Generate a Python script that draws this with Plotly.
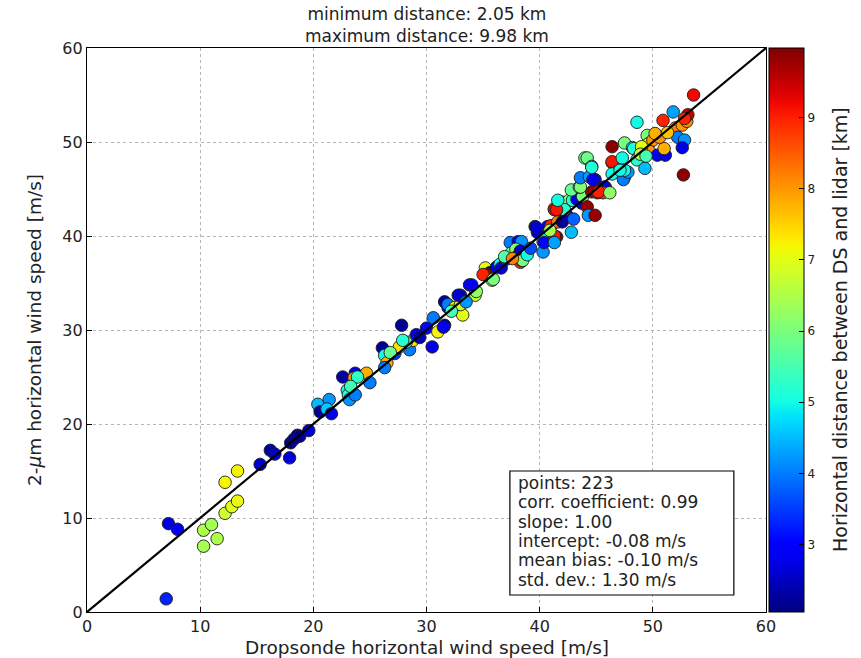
import plotly.graph_objects as go
import numpy as np

# ---- data ----
pts = [
 (7.0,1.4,3.3),(7.2,9.4,2.7),(8.0,8.8,2.9),(10.3,7.0,6.4),(10.3,8.7,6.5),(11.0,9.3,6.4),(11.5,7.8,6.5),
 (12.2,10.5,6.8),(12.8,11.2,7.0),(13.3,11.8,7.1),(12.2,13.8,7.2),(13.3,15.0,7.2),
 (15.3,15.7,2.6),(16.2,17.2,2.3),(16.6,16.8,2.6),(17.9,16.4,2.7),(18.0,18.0,2.2),(18.3,18.4,2.3),
 (18.6,18.8,2.1),(18.8,18.7,2.2),(19.6,19.3,2.7),
 (20.4,22.1,4.5),(20.6,21.3,2.2),(21.4,22.6,4.2),(21.2,21.6,4.6),(21.6,21.1,2.8),(22.6,25.0,2.3),
 (23.7,25.4,2.7),(23.6,24.9,8.0),(24.7,25.4,7.8),(25.0,24.4,4.0),(23.0,23.6,5.0),(23.1,23.1,5.2),
 (23.2,22.6,4.2),(23.7,23.1,4.0),(23.9,25.0,5.3),(23.3,24.0,5.4),(26.1,28.1,2.2),(26.3,27.3,5.0),
 (26.5,26.5,7.8),(26.3,26.0,4.0),(27.2,27.5,3.5),(27.8,28.4,7.5),(28.5,27.9,4.0),(28.8,28.9,7.3),
 (29.1,29.5,3.0),(28.2,28.7,5.5),(27.8,30.5,2.2),(27.6,28.2,7.4),(27.9,28.9,5.2),(26.8,27.6,5.8),
 (29.4,29.2,2.4),
 (30.5,28.2,2.8),(30.6,31.3,4.0),(30.0,30.2,3.0),(31.0,29.8,7.2),(31.6,30.5,2.2),(31.5,30.3,2.8),
 (31.9,32.4,2.8),(31.6,33.0,2.3),(31.9,32.7,4.0),(32.5,32.4,7.3),(33.0,33.7,2.7),(33.2,31.6,7.0),
 (33.0,32.7,6.8),(33.8,34.8,3.0),(34.3,33.7,6.8),(34.4,34.1,6.2),(32.8,33.7,2.6),(32.2,32.0,5.5),
 (34.0,34.8,2.9),(33.5,33.0,4.2),
 (35.2,36.6,7.0),(35.6,36.1,2.2),(35.3,35.9,9.8),(35.0,35.9,9.0),(36.2,36.7,2.8),(35.8,35.3,6.5),
 (35.9,35.4,6.0),(36.5,37.0,5.0),(36.6,36.6,2.7),(37.4,39.3,4.0),(38.1,39.4,3.0),(38.4,39.4,4.2),
 (37.5,38.2,6.0),(37.9,38.6,6.1),(38.0,37.8,2.8),(38.3,38.4,2.6),(38.3,37.2,8.8),(38.4,37.4,9.2),
 (38.5,37.4,6.0),(38.9,38.0,5.0),(37.0,37.5,3.4),(36.9,37.8,5.6),(37.6,37.6,8.2),(39.2,38.7,3.6),
 (39.6,41.0,2.2),(39.8,40.4,2.5),(39.7,40.9,2.6),(40.3,38.3,4.2),(40.3,39.4,4.3),(40.5,39.7,5.0),
 (40.4,39.3,3.0),(41.5,39.9,9.8),(41.3,40.0,9.1),(41.3,39.3,4.3),(40.7,41.0,2.7),(41.0,41.1,9.0),
 (41.6,41.5,8.2),(42.0,41.5,2.2),(42.4,42.2,2.6),(42.8,40.4,4.5),(42.0,42.8,9.0),(41.3,42.9,8.0),
 (41.3,42.8,9.2),(42.0,43.5,6.0),(42.0,43.6,6.2),(42.6,43.8,6.1),(42.2,42.8,5.2),(41.5,42.8,9.1),
 (42.9,43.8,5.2),(43.3,43.9,2.8),(43.7,43.5,2.8),(43.8,44.2,6.0),(44.2,43.1,9.8),(44.3,42.2,4.2),
 (44.9,42.2,9.8),(44.6,44.7,9.8),(45.1,44.6,9.2),(45.8,45.2,2.6),(45.7,45.2,2.7),(45.6,44.6,8.8),
 (45.2,44.7,9.0),(46.2,44.6,6.2),(42.8,44.9,5.8),(43.5,45.2,6.0),(43.6,45.2,6.1),(43.6,46.2,4.0),
 (44.4,46.3,4.3),(44.9,46.0,3.0),(44.7,46.0,2.8),(44.0,48.3,5.8),(44.2,48.3,5.9),(44.6,47.4,5.0),
 (44.6,47.3,5.1),(41.6,43.8,5.0),(43.0,41.8,3.8),(40.9,40.6,6.4),
 (46.4,47.8,9.0),(46.4,47.9,9.1),(46.4,49.5,9.9),(47.5,49.9,6.0),(48.2,49.4,5.0),(48.3,49.3,5.1),
 (48.7,48.3,5.0),(48.6,48.1,5.2),(47.3,48.3,5.0),(46.8,46.8,4.5),(46.4,46.6,5.0),(47.5,46.3,3.5),
 (47.4,46.0,4.0),(47.8,46.8,4.2),(47.5,47.0,5.0),(47.1,47.0,5.0),(49.3,47.2,4.5),(48.6,52.1,5.0),
 (49.5,50.7,6.0),(49.6,49.8,7.2),(50.0,50.2,8.0),(49.7,49.0,8.0),(50.4,48.6,3.0),(51.1,48.6,2.8),
 (51.0,49.3,7.8),(50.6,50.5,8.0),(50.9,52.3,9.0),(51.8,53.2,4.3),(52.0,51.5,8.2),(52.6,51.8,8.0),
 (53.0,52.2,8.1),(53.1,52.9,9.5),(52.8,52.5,9.0),(52.2,50.5,4.0),(52.8,50.2,4.2),(52.6,49.4,2.8),
 (52.7,46.5,9.9),(53.6,55.0,9.2),(49.0,49.5,7.0),(50.2,50.9,7.8),(51.3,51.0,7.6),(48.9,48.7,6.6),
 (49.4,48.5,5.5),
]
ds_speed = [p[0] for p in pts]
lidar_speed = [p[1] for p in pts]
distance_km = [p[2] for p in pts]

dist_min = 2.05
dist_max = 9.98
line_x = [0, 60]
line_y = [0, 60]
axis_ticks = [0, 10, 20, 30, 40, 50, 60]
cbar_ticks = [3, 4, 5, 6, 7, 8, 9]

title_lines = ["minimum distance: 2.05 km", "maximum distance: 9.98 km"]
stats_lines = ["points: 223", "corr. coefficient: 0.99", "slope: 1.00",
               "intercept: -0.08 m/s", "mean bias: -0.10 m/s", "std. dev.: 1.30 m/s"]
x_label = "Dropsonde horizontal wind speed [m/s]"
y_label = "2-<i>μ</i>m horizontal wind speed [m/s]"
cbar_label = "Horizontal distance between DS and lidar [km]"

# matplotlib "jet" colormap
def jet(v):
    def interp(pts_):
        xs = [a for a, b in pts_]; ys = [b for a, b in pts_]
        return float(np.interp(v, xs, ys))
    r = interp([(0, 0), (0.35, 0), (0.66, 1), (0.89, 1), (1, 0.5)])
    g = interp([(0, 0), (0.125, 0), (0.375, 1), (0.64, 1), (0.91, 0), (1, 0)])
    b = interp([(0, 0.5), (0.11, 1), (0.34, 1), (0.65, 0), (1, 0)])
    return "rgb(%d,%d,%d)" % (round(r * 255), round(g * 255), round(b * 255))

jet_scale = [[v, jet(v)] for v in np.linspace(0, 1, 41)]

FONT = "DejaVu Sans"
TXT = "#222"
fig = go.Figure()

fig.add_trace(go.Scatter(
    x=ds_speed, y=lidar_speed, mode="markers",
    marker=dict(size=12.5, color=distance_km, colorscale=jet_scale, cmin=dist_min, cmax=dist_max,
                line=dict(color="rgba(30,30,30,0.9)", width=1),
                colorbar=dict(
                    x=1.005, xanchor="left", xref="paper", xpad=0, ypad=0,
                    y=0.5, yanchor="middle", len=1.0, lenmode="fraction",
                    thickness=35, outlinewidth=1, outlinecolor="black",
                    tickvals=cbar_ticks, ticks="inside", ticklen=5, tickcolor="black",
                    tickfont=dict(family=FONT, size=12, color=TXT),
                )),
    showlegend=False, hoverinfo="skip"))

fig.add_trace(go.Scatter(x=line_x, y=line_y, mode="lines",
                         line=dict(color="black", width=2.2), showlegend=False, hoverinfo="skip"))

axis_common = dict(range=[0, 60], tickvals=axis_ticks, showline=True, linecolor="black", linewidth=1.2,
                   mirror=True, ticks="inside", ticklen=5, tickcolor="black",
                   showgrid=True, gridcolor="#b5b5b5", griddash="dot", gridwidth=1,
                   zeroline=False, tickfont=dict(family=FONT, size=16, color=TXT))

fig.update_layout(
    width=861, height=658,
    margin=dict(l=87, r=95, t=48, b=46, autoexpand=False),
    paper_bgcolor="white", plot_bgcolor="white",
    font=dict(family=FONT, color=TXT),
    xaxis=dict(**axis_common),
    yaxis=dict(**axis_common),
)

# title (two lines)
fig.add_annotation(text="<br>".join(title_lines), xref="paper", yref="paper", x=0.5, y=1.0,
                   xanchor="center", yanchor="bottom", yshift=0, showarrow=False,
                   font=dict(family=FONT, size=17, color=TXT))

# axis labels
fig.add_annotation(text=x_label, xref="paper", yref="paper", x=0.5, y=0.0,
                   xanchor="center", yanchor="middle", yshift=-35, showarrow=False,
                   font=dict(family=FONT, size=18.5, color=TXT))
fig.add_annotation(text=y_label, xref="paper", yref="paper", x=0.0, y=0.5, textangle=-90,
                   xanchor="center", yanchor="middle", xshift=-53, showarrow=False,
                   font=dict(family=FONT, size=18.5, color=TXT))
fig.add_annotation(text=cbar_label, xref="paper", yref="paper", x=1.0, y=0.5, textangle=-90,
                   xanchor="center", yanchor="middle", xshift=74, showarrow=False,
                   font=dict(family=FONT, size=19, color=TXT))

# stats box
box_x0, box_x1, box_y0, box_y1 = 37.37, 57.16, 1.81, 15.0
fig.add_shape(type="rect", xref="x", yref="y", x0=box_x0, x1=box_x1, y0=box_y0, y1=box_y1,
              line=dict(color="black", width=1.2), fillcolor="white", layer="above")
for i, s in enumerate(stats_lines):
    fig.add_annotation(text=s, xref="x", yref="y", x=box_x0, y=box_y1, xanchor="left", yanchor="middle",
                       xshift=6, yshift=-(12 + i * 19.3), showarrow=False,
                       font=dict(family=FONT, size=17, color=TXT))

fig.write_html("out.html")
